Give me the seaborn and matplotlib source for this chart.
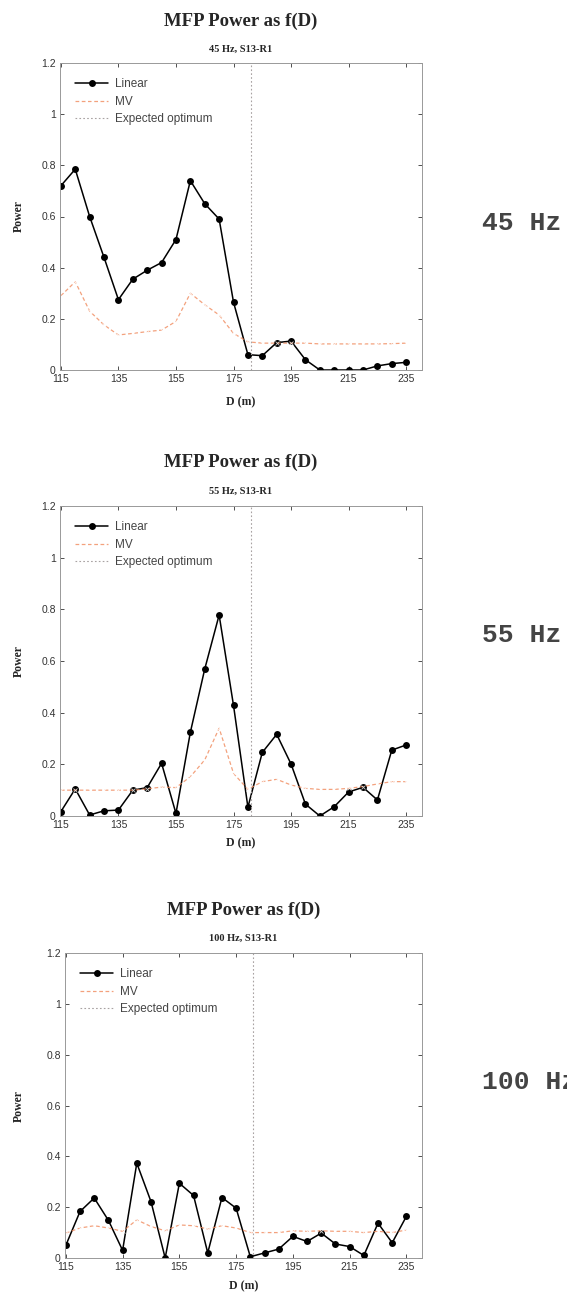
import numpy as np
import pandas as pd
import seaborn as sns
import matplotlib.pyplot as plt

depth = list(range(115, 240, 5))
optimum = 181

linear_45 = [0.72, 0.785, 0.60, 0.44, 0.275, 0.355, 0.39, 0.42, 0.51, 0.74, 0.65, 0.59, 0.265,
             0.06, 0.056, 0.107, 0.113, 0.04, 0.0, 0.0, 0.0, 0.0, 0.016, 0.025, 0.03]
mv_45 = [0.29, 0.345, 0.23, 0.176, 0.137, 0.143, 0.15, 0.156, 0.19, 0.30, 0.255, 0.215, 0.143,
         0.11, 0.105, 0.105, 0.105, 0.105, 0.102, 0.102, 0.102, 0.102, 0.102, 0.103, 0.105]

linear_55 = [0.017, 0.105, 0.004, 0.02, 0.023, 0.10, 0.11, 0.204, 0.01, 0.324, 0.569, 0.778, 0.428,
             0.034, 0.246, 0.316, 0.201, 0.046, 0.0, 0.036, 0.093, 0.111, 0.062, 0.255, 0.275]
mv_55 = [0.10, 0.10, 0.10, 0.10, 0.10, 0.10, 0.105, 0.112, 0.11, 0.152, 0.217, 0.34, 0.165,
         0.103, 0.133, 0.142, 0.12, 0.107, 0.103, 0.103, 0.107, 0.114, 0.124, 0.133, 0.133]

linear_100 = [0.05, 0.183, 0.236, 0.148, 0.03, 0.373, 0.222, 0.0, 0.294, 0.246, 0.02, 0.238, 0.196,
              0.005, 0.02, 0.035, 0.085, 0.065, 0.098, 0.055, 0.045, 0.01, 0.137, 0.06, 0.164]
mv_100 = [0.098, 0.118, 0.127, 0.118, 0.105, 0.15, 0.124, 0.107, 0.13, 0.127, 0.114, 0.127, 0.118,
          0.10, 0.10, 0.10, 0.107, 0.105, 0.107, 0.105, 0.105, 0.10, 0.105, 0.10, 0.11]

panels = [
    ("45 Hz, S13-R1", "45 Hz", linear_45, mv_45),
    ("55 Hz, S13-R1", "55 Hz", linear_55, mv_55),
    ("100 Hz, S13-R1", "100 Hz", linear_100, mv_100),
]

sns.set_theme(style="ticks")
plt.rcParams["font.family"] = ["Liberation Sans", "DejaVu Sans"]

W, H = 567, 1294
fig = plt.figure(figsize=(W / 100, H / 100), dpi=100)

# pixel boxes: left, right, top, bottom ; title y, subtitle y, xlabel y
boxes = [
    (60, 422, 63, 370, 21, 49, 402),
    (60, 422, 506, 816, 462, 491, 843),
    (65, 422, 953, 1258, 910, 938, 1286),
]
side_y = [223, 635, 1082]

for (sub, side, lin, mv), (l, r, t, b, ty, sy, xy), yy in zip(panels, boxes, side_y):
    ax = fig.add_axes([l / W, 1 - b / H, (r - l) / W, (b - t) / H])
    df = pd.DataFrame({"D": depth, "Linear": lin, "MV": mv})
    sns.lineplot(data=df, x="D", y="Linear", ax=ax, color="black", lw=1.1,
                 marker="o", markersize=5, markeredgewidth=0, label="Linear")
    sns.lineplot(data=df, x="D", y="MV", ax=ax, color="#f08a5d", lw=0.9,
                 linestyle=(0, (3, 2)), marker="x", markersize=2.5,
                 markeredgewidth=0.6, alpha=0.8, label="MV")
    ax.axvline(optimum, color="#a8a2a2", lw=0.8, linestyle=(0, (1.5, 2)),
               label="Expected optimum")
    ax.set_xlim(114.7, 240.5)
    ax.set_ylim(0, 1.2)
    ax.set_xticks(range(115, 236, 20))
    ax.set_yticks([0, 0.2, 0.4, 0.6, 0.8, 1.0, 1.2])
    ax.set_yticklabels(["0", "0.2", "0.4", "0.6", "0.8", "1", "1.2"])
    ax.tick_params(direction="in", length=3, width=0.6, labelsize=7.5,
                   colors="#333333", top=True, right=True, pad=3)
    for s in ax.spines.values():
        s.set_color("#999999")
        s.set_linewidth(0.7)
    ax.set_xlabel("")
    ax.set_ylabel("")
    leg = ax.legend(loc="upper left", frameon=False, fontsize=8.5,
                    handlelength=2.8, handletextpad=0.6, labelspacing=0.45,
                    borderaxespad=0.9)
    for txt in leg.get_texts():
        txt.set_color("#444444")

    fig.text((l + r) / 2 / W, 1 - ty / H, "MFP Power as f(D)", ha="center", va="center",
             fontsize=13.5, fontweight="bold", family="Liberation Serif")
    fig.text((l + r) / 2 / W, 1 - sy / H, sub, ha="center", va="center",
             fontsize=7.5, fontweight="bold", family="Liberation Serif")
    fig.text((l + r) / 2 / W, 1 - xy / H, "D (m)", ha="center", va="center",
             fontsize=8.5, fontweight="bold", family="Liberation Serif")
    fig.text(19 / W, 1 - (t + b) / 2 / H, "Power", ha="center", va="center",
             rotation=90, fontsize=8.5, fontweight="bold", family="Liberation Serif")
    fig.text(482 / W, 1 - yy / H, side, ha="left", va="center", fontsize=19,
             fontweight="bold", family="Liberation Mono", color="#444444")

fig.savefig("out.png", dpi=100)
